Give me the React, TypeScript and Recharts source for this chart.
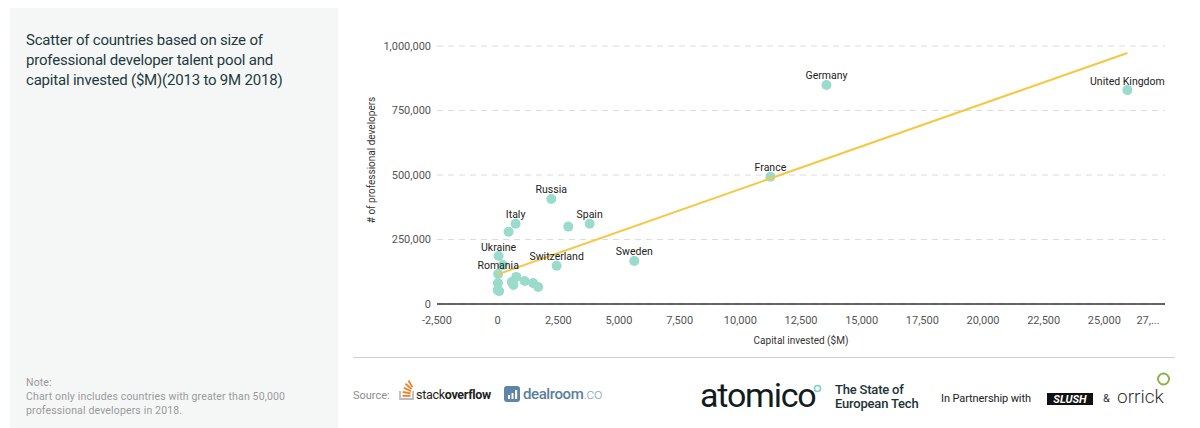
import React from 'react';
import { ScatterChart, Scatter, XAxis, YAxis, CartesianGrid } from 'recharts';

const countryNames = [
  'United Kingdom', 'Germany', 'France', 'Spain', 'Russia', 'Italy', 'Sweden', 'Switzerland', 'Ukraine', 'Romania',
  '', '', '', '', '', '', '', '', '', '', '', '',
];
const capitalInvested = [
  25950, 13550, 11240, 3790, 2210, 740, 5630, 2430, 40, 20,
  450, 2910, 210, 10, 0, 60, 580, 770, 650, 1110, 1460, 1670,
];
const professionalDevelopers = [
  829000, 849000, 493000, 311000, 407000, 311000, 167000, 148000, 186000, 116000,
  280000, 300000, 151000, 81000, 54000, 50000, 85000, 105000, 74000, 89000, 81000, 66000,
];
const trendCapital = [0, 25950];
const trendDevelopers = [115000, 973000];
const xTicks = [-2500, 0, 2500, 5000, 7500, 10000, 12500, 15000, 17500, 20000, 22500, 25000, 27500];
const yTicks = [0, 250000, 500000, 750000, 1000000];

const points = countryNames.map((name, i) => ({ name, x: capitalInvested[i], y: professionalDevelopers[i] }));
const trend = trendCapital.map((x, i) => ({ x, y: trendDevelopers[i] }));

const fmt = (v: number) => v.toLocaleString('en-US');

const XTick = (props: any) => {
  const { x, y, payload } = props;
  const v = payload.value;
  const last = v === 27500;
  return (
    <text x={x + (last ? -12 : 0)} y={y} dy="0.71em" textAnchor="middle" fontSize={11} fill="#555">
      {last ? '27,...' : fmt(v)}
    </text>
  );
};

const Dot = (p: any) => <circle cx={p.cx} cy={p.cy} r={5} fill="#9adbcb" />;
const NameLabel = (p: any) =>
  p.payload && p.payload.name ? (
    <text x={p.cx} y={p.cy - 5.5} textAnchor="middle" fontSize={10.5} fill="#222">
      {p.payload.name}
    </text>
  ) : (
    <g />
  );
const Empty = () => <g />;

const YLabel = () => (
  <text x={27} y={140} transform="rotate(-90 27 140)" textAnchor="middle" dominantBaseline="middle" fontSize={10} fill="#333">
    # of professional developers
  </text>
);

export default function App() {
  return (
    <div style={{ position: 'relative', width: 1184, height: 420, fontFamily: 'Roboto, sans-serif' }}>
      <svg width={1184} height={420} style={{ position: 'absolute', left: 0, top: 0 }}>
        <rect x={2} y={0} width={328} height={420} fill="#f5f7f7" />
        <g fontSize={15} fill="#1e3a40" letterSpacing={-0.2}>
          <text x={18} y={37}>Scatter of countries based on size of</text>
          <text x={18} y={57}>professional developer talent pool and</text>
          <text x={18} y={77}>capital invested ($M)(2013 to 9M 2018)</text>
        </g>
        <g fontSize={10.5} fill="#9a9a9a" letterSpacing={0.15}>
          <text x={18} y={378}>Note:</text>
          <text x={18} y={392}>Chart only includes countries with greater than 50,000</text>
          <text x={18} y={406}>professional developers in 2018.</text>
        </g>
        <rect x={345} y={349} width={822} height={1} fill="#d0d0d0" />
        <text x={345} y={391} fontSize={11} fill="#8d8d8d">Source:</text>
        <g transform="translate(391,370)">
          <path d="M1 13 V21 H14 V13" stroke="#bcbbbb" strokeWidth={1.8} fill="none" />
          <rect x={3.5} y={17} width={8} height={1.8} fill="#f48024" />
          <rect x={3.7} y={13.8} width={8} height={1.8} fill="#f48024" transform="rotate(10 7.7 14.7)" />
          <rect x={4.3} y={10.5} width={8} height={1.8} fill="#f48024" transform="rotate(25 8.3 11.4)" />
          <rect x={5.5} y={7.5} width={8} height={1.8} fill="#f48024" transform="rotate(42 9.5 8.4)" />
          <rect x={7.5} y={5} width={8} height={1.8} fill="#f48024" transform="rotate(60 11.5 5.9)" />
        </g>
        <text x={408} y={391} fontSize={12.5} fill="#222" letterSpacing={-0.3}>
          stack<tspan fontWeight={700}>overflow</tspan>
        </text>
        <rect x={496} y={378} width={16} height={16} rx={3} fill="#5e84a8" />
        <rect x={500} y={387} width={2} height={4} fill="#fff" />
        <rect x={503.5} y={385} width={2} height={6} fill="#fff" />
        <rect x={507} y={382} width={2.2} height={9} fill="#fff" />
        <text x={515} y={391} fontSize={15} fill="#5a7ea0" fontWeight={500} letterSpacing={-0.4}>
          dealroom<tspan fill="#8fa9c2" fontWeight={300}>.co</tspan>
        </text>
        <text x={692} y={399} fontSize={34} fill="#111c1e" fontWeight={400} letterSpacing={-1.2}>atomico</text>
        <circle cx={809.5} cy={380.5} r={3} fill="none" stroke="#7fd0bd" strokeWidth={1.6} />
        <g fontSize={13} fill="#1d3436" fontWeight={500} letterSpacing={-0.2}>
          <text x={827} y={386}>The State of</text>
          <text x={827} y={400}>European Tech</text>
        </g>
        <text x={933} y={394} fontSize={11} fill="#222" letterSpacing={-0.1}>In Partnership with</text>
        <rect x={1039} y={385} width={46} height={12} fill="#111" />
        <text x={1062} y={395} fontSize={11} fill="#fff" fontWeight={700} fontStyle="italic" textAnchor="middle">SLUSH</text>
        <text x={1095} y={394} fontSize={11} fill="#333">&amp;</text>
        <text x={1109} y={395} fontSize={19} fill="#333" fontWeight={300}>orrick</text>
        <circle cx={1155.5} cy={371} r={5.5} fill="none" stroke="#8ab34a" strokeWidth={2} />
      </svg>
      <div style={{ position: 'absolute', left: 337, top: 12 }}>
        <ScatterChart width={835} height={330} margin={{ top: 26, right: 15, bottom: 0, left: 0 }}>
          <CartesianGrid vertical={false} stroke="#dcdcdc" strokeDasharray="6 5" />
          <XAxis
            type="number"
            dataKey="x"
            domain={[-2500, 27500]}
            ticks={xTicks}
            allowDataOverflow
            height={46}
            tickLine={false}
            tickMargin={6}
            axisLine={{ stroke: '#333', strokeWidth: 1.5 }}
            tick={<XTick />}
            label={{ value: 'Capital invested ($M)', position: 'insideBottom', offset: 6, fontSize: 10, fill: '#333' }}
          />
          <YAxis
            type="number"
            dataKey="y"
            domain={[0, 1000000]}
            ticks={yTicks}
            width={92}
            axisLine={false}
            tickLine={false}
            tickMargin={0}
            tick={{ fontSize: 11, fill: '#555' }}
            tickFormatter={fmt}
            label={<YLabel />}
          />
          <Scatter data={points} shape={<Dot />} isAnimationActive={false} />
          <Scatter data={trend} shape={<Empty />} line={{ stroke: '#f5c842', strokeWidth: 2 }} isAnimationActive={false} />
          <Scatter data={points} shape={<NameLabel />} isAnimationActive={false} />
        </ScatterChart>
      </div>
    </div>
  );
}
